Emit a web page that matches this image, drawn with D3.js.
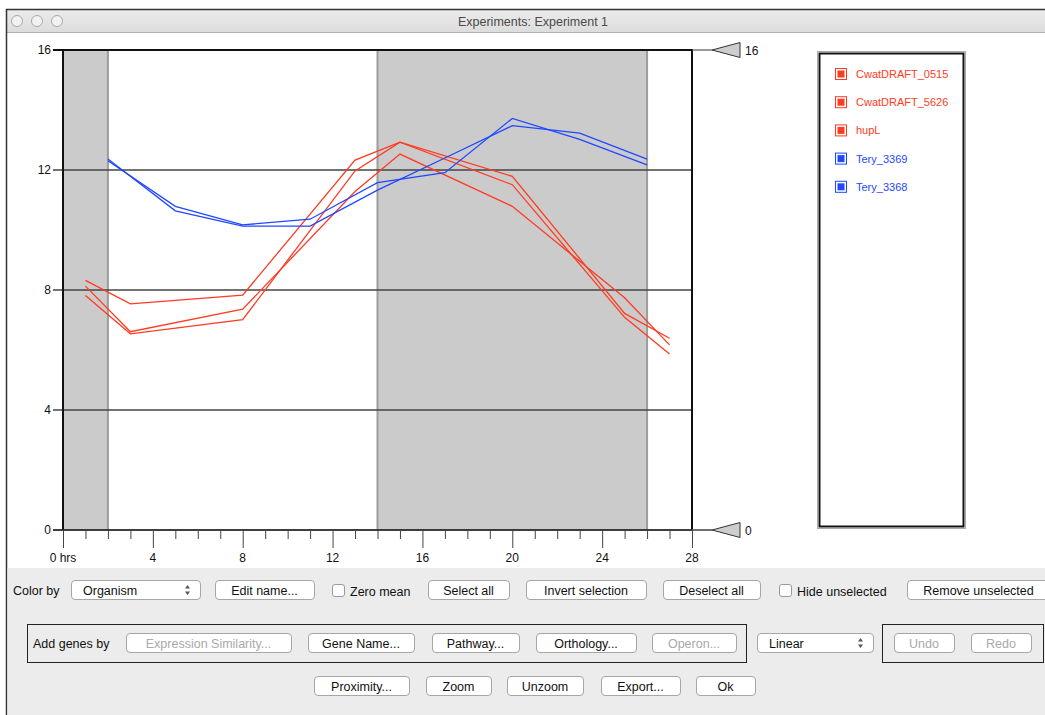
<!DOCTYPE html>
<html>
<head>
<meta charset="utf-8">
<script src="https://cdn.jsdelivr.net/npm/d3@7"></script>
<style>
  body { margin: 0; background: #fff; }
  svg { display: block; font-family: "Liberation Sans", Arial, sans-serif; }
</style>
</head>
<body>
<div id="chart"></div>
<script>
// time points (hours) for each organism's samples
const redHours = [1, 3, 8, 13, 15, 20, 25, 27];
const blueHours = [2, 5, 8, 11, 14, 17, 20, 23, 26];

const geneNames = ["CwatDRAFT_0515", "CwatDRAFT_5626", "hupL", "Tery_3369", "Tery_3368"];
const cwat0515 = [8.32, 7.54, 7.83, 12.33, 12.93, 11.79, 7.22, 6.39];
const cwat5626 = [8.13, 6.61, 7.36, 11.28, 12.53, 10.79, 7.74, 6.17];
const hupL     = [7.82, 6.54, 7.01, 11.97, 12.93, 11.51, 7.09, 5.87];
const tery3369 = [12.31, 10.79, 10.17, 10.36, 11.58, 11.91, 13.72, 13.02, 12.17];
const tery3368 = [12.37, 10.64, 10.13, 10.13, 11.33, 12.40, 13.48, 13.23, 12.36];

const darkPeriods = [[0, 2], [14, 26]];
const yTicks = [0, 4, 8, 12, 16];
const xMajor = [0, 4, 8, 12, 16, 20, 24, 28];
const xLabels = ["0 hrs", "4", "8", "12", "16", "20", "24", "28"];

const RED = "#ff3b22", BLUE = "#1f48ff";

const series = [
  {name: geneNames[0], hours: redHours, values: cwat0515, color: RED},
  {name: geneNames[1], hours: redHours, values: cwat5626, color: RED},
  {name: geneNames[2], hours: redHours, values: hupL, color: RED},
  {name: geneNames[3], hours: blueHours, values: tery3369, color: BLUE},
  {name: geneNames[4], hours: blueHours, values: tery3368, color: BLUE}
];

const W = 1045, H = 715;
const svg = d3.select('#chart').append('svg')
  .attr('width', W).attr('height', H);

// ---- window chrome ----
const grad = svg.append('defs').append('linearGradient')
  .attr('id', 'titlebar').attr('x1', 0).attr('x2', 0).attr('y1', 0).attr('y2', 1);
grad.append('stop').attr('offset', '0%').attr('stop-color', '#ececec');
grad.append('stop').attr('offset', '100%').attr('stop-color', '#dcdcdc');

svg.append('rect').attr('x', 6).attr('y', 9).attr('width', W).attr('height', 24)
  .attr('fill', 'url(#titlebar)');
svg.append('line').attr('x1', 6).attr('x2', W).attr('y1', 32.5).attr('y2', 32.5)
  .attr('stroke', '#b5b5b5');
svg.append('line').attr('x1', 6).attr('x2', W).attr('y1', 9.5).attr('y2', 9.5)
  .attr('stroke', '#333').attr('stroke-width', 1.5);
svg.append('line').attr('x1', 6.5).attr('x2', 6.5).attr('y1', 9).attr('y2', H)
  .attr('stroke', '#333').attr('stroke-width', 1.5);

[17, 37, 57].forEach(cx => {
  svg.append('circle').attr('cx', cx).attr('cy', 21).attr('r', 5.5)
    .attr('fill', '#f2f2f2').attr('stroke', '#a9a9a9');
});
svg.append('text').attr('x', 533).attr('y', 25.5).attr('text-anchor', 'middle')
  .attr('font-size', 12.5).attr('fill', '#4a4a4a').text('Experiments: Experiment 1');

// ---- chart ----
const x = d3.scaleLinear().domain([0, 28]).range([63, 692]);
const y = d3.scaleLinear().domain([0, 16]).range([530, 50]);

const plot = svg.append('g');

// dark periods
plot.selectAll('.band').data(darkPeriods).enter().append('rect')
  .attr('class', 'band')
  .attr('x', d => x(d[0])).attr('y', y(16))
  .attr('width', d => x(d[1]) - x(d[0])).attr('height', y(0) - y(16))
  .attr('fill', '#cbcbcb');
darkPeriods.forEach(d => {
  d.forEach(h => {
    if (h === 0) return;
    plot.append('line').attr('x1', x(h)).attr('x2', x(h)).attr('y1', y(16)).attr('y2', y(0))
      .attr('stroke', '#9d9d9d').attr('stroke-width', 2);
  });
});

// horizontal grid lines + left ticks
plot.selectAll('.grid').data(yTicks).enter().append('line')
  .attr('class', 'grid')
  .attr('x1', 53).attr('x2', x(28))
  .attr('y1', d => y(d)).attr('y2', d => y(d))
  .attr('stroke', d => (d === 16 || d === 0) ? '#111' : '#444')
  .attr('stroke-width', d => d === 16 ? 2 : 1.3);

plot.selectAll('.ylab').data(yTicks).enter().append('text')
  .attr('class', 'ylab')
  .attr('x', 51).attr('y', d => y(d) + 4)
  .attr('text-anchor', 'end').attr('font-size', 12).attr('fill', '#111')
  .text(d => d);

// plot frame sides
[0, 28].forEach(h => {
  plot.append('line').attr('x1', x(h)).attr('x2', x(h)).attr('y1', y(16) - 1).attr('y2', y(0))
    .attr('stroke', '#111').attr('stroke-width', 2);
});

// x axis line and ticks
plot.append('line').attr('x1', 53).attr('x2', 712).attr('y1', y(0)).attr('y2', y(0))
  .attr('stroke', '#333').attr('stroke-width', 1.2);

const xAxis = d3.axisBottom(x).tickValues(d3.range(0, 29)).tickSize(9).tickFormat('');
const axisG = plot.append('g').attr('transform', `translate(0,${y(0)})`).call(xAxis);
axisG.select('.domain').remove();
axisG.selectAll('line').attr('stroke', '#444')
  .attr('y2', d => d % 4 === 0 ? 18 : 9);

plot.selectAll('.xlab').data(xMajor).enter().append('text')
  .attr('class', 'xlab')
  .attr('x', d => x(d)).attr('y', 562)
  .attr('text-anchor', 'middle').attr('font-size', 12).attr('fill', '#111')
  .text((d, i) => xLabels[i]);

// right scale markers
[16, 0].forEach(v => {
  plot.append('line').attr('x1', x(28)).attr('x2', 712).attr('y1', y(v)).attr('y2', y(v))
    .attr('stroke', '#555').attr('stroke-width', 1.2);
  plot.append('path')
    .attr('d', `M712,${y(v)} L740,${y(v) - 7.5} L740,${y(v) + 7.5} Z`)
    .attr('fill', '#cdcdcd').attr('stroke', '#333').attr('stroke-width', 1);
  plot.append('text').attr('x', 745).attr('y', y(v) + 5)
    .attr('font-size', 12).attr('fill', '#111').text(v);
});

// data lines
const line = d3.line().x(d => x(d[0])).y(d => y(d[1]));
plot.selectAll('.series').data(series).enter().append('path')
  .attr('class', 'series')
  .attr('d', s => line(s.hours.map((h, i) => [h, s.values[i]])))
  .attr('fill', 'none').attr('stroke', s => s.color).attr('stroke-width', 1.3);

// ---- legend ----
svg.append('rect').attr('x', 817.5).attr('y', 51.5).attr('width', 148).attr('height', 477)
  .attr('fill', 'none').attr('stroke', '#aaa');
svg.append('rect').attr('x', 819.5).attr('y', 53.5).attr('width', 144).attr('height', 473)
  .attr('fill', '#fff').attr('stroke', '#111').attr('stroke-width', 2);

const leg = svg.selectAll('.leg').data(series).enter().append('g')
  .attr('class', 'leg')
  .attr('transform', (d, i) => `translate(835,${68 + i * 28.2})`);
leg.append('rect').attr('x', 0.5).attr('y', 0.5).attr('width', 11).attr('height', 11)
  .attr('fill', '#fff').attr('stroke', d => d.color);
leg.append('rect').attr('x', 2.5).attr('y', 2.5).attr('width', 7).attr('height', 7)
  .attr('fill', d => d.color);
leg.append('text').attr('x', 21).attr('y', 10).attr('font-size', 11)
  .attr('fill', d => d.color).text(d => d.name);

// ---- control panel ----
svg.append('rect').attr('x', 7.5).attr('y', 568).attr('width', W).attr('height', H - 568)
  .attr('fill', '#ececec');

const ui = svg.append('g').attr('font-size', 12.5);

function button(x0, x1, yc, label, disabled) {
  const g = ui.append('g');
  g.append('rect').attr('x', x0 + 0.5).attr('y', yc - 9.5).attr('width', x1 - x0).attr('height', 19)
    .attr('rx', 3.5).attr('fill', '#fff').attr('stroke', '#a6a6a6');
  g.append('text').attr('x', (x0 + x1) / 2).attr('y', yc + 4.5).attr('text-anchor', 'middle')
    .attr('fill', disabled ? '#a9a9a9' : '#111').text(label);
}
function popup(x0, x1, yc, label) {
  const g = ui.append('g');
  g.append('rect').attr('x', x0 + 0.5).attr('y', yc - 9.5).attr('width', x1 - x0).attr('height', 19)
    .attr('rx', 3.5).attr('fill', '#fff').attr('stroke', '#a6a6a6');
  g.append('text').attr('x', x0 + 12).attr('y', yc + 4.5).attr('fill', '#111').text(label);
  g.append('path').attr('d', `M${x1 - 10},${yc - 1.5} l-2.5,-3.5 l-2.5,3.5 Z M${x1 - 10},${yc + 1.5} l-2.5,3.5 l-2.5,-3.5 Z`)
    .attr('fill', '#555');
}
function checkbox(x0, yc, label) {
  ui.append('rect').attr('x', x0 + 0.5).attr('y', yc - 5.5).attr('width', 12).attr('height', 12)
    .attr('rx', 2.5).attr('fill', '#fff').attr('stroke', '#9a9a9a');
  ui.append('text').attr('x', x0 + 18).attr('y', yc + 6).attr('fill', '#111').text(label);
}

// row 1
ui.append('text').attr('x', 13).attr('y', 595).attr('fill', '#111').text('Color by');
popup(71, 200, 590, 'Organism');
button(215, 314, 590, 'Edit name...');
checkbox(332, 590, 'Zero mean');
button(428, 509, 590, 'Select all');
button(526, 646, 590, 'Invert selection');
button(663, 760, 590, 'Deselect all');
checkbox(779, 590, 'Hide unselected');
button(907, 1050, 590, 'Remove unselected');

// row 2
ui.append('rect').attr('x', 27.5).attr('y', 624.5).attr('width', 719).attr('height', 38)
  .attr('fill', 'none').attr('stroke', '#222');
ui.append('text').attr('x', 33).attr('y', 648).attr('fill', '#111').text('Add genes by');
button(126, 291, 643, 'Expression Similarity...', true);
button(308, 414, 643, 'Gene Name...');
button(432, 519, 643, 'Pathway...');
button(536, 636, 643, 'Orthology...');
button(652, 736, 643, 'Operon...', true);
popup(757, 873, 643, 'Linear');
ui.append('rect').attr('x', 882.5).attr('y', 624.5).attr('width', 161).attr('height', 38)
  .attr('fill', 'none').attr('stroke', '#222');
button(894, 954, 643, 'Undo', true);
button(971, 1031, 643, 'Redo', true);

// row 3
button(314, 409, 686, 'Proximity...');
button(426, 491, 686, 'Zoom');
button(507, 583, 686, 'Unzoom');
button(601, 680, 686, 'Export...');
button(696, 755, 686, 'Ok');
</script>
</body>
</html>
